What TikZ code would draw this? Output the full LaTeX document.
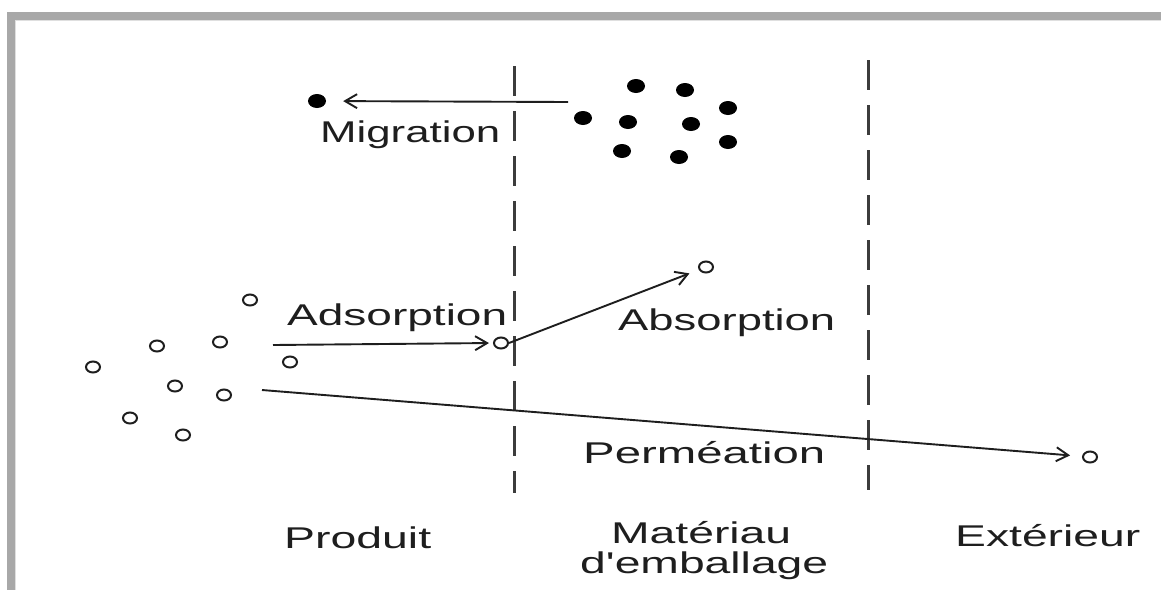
\documentclass[tikz,border=0pt]{standalone}
\usepackage{fontspec}
\setmainfont{Liberation Sans}
\usetikzlibrary{shapes.geometric,arrows.meta}
\definecolor{ink}{RGB}{30,30,30}
\definecolor{divcol}{RGB}{60,60,60}
\definecolor{framecol}{RGB}{168,168,168}
\newcommand{\stretchto}[2]{\resizebox{#1pt}{\height}{#2}}
\begin{document}
\begin{tikzpicture}[x=1pt,y=-1pt,
  lbl/.style={anchor=base west,inner sep=0pt,text=ink,font=\fontsize{30}{34}\selectfont},
  fdot/.style={ellipse,fill=black,minimum width=18pt,minimum height=14pt,inner sep=0pt},
  odot/.style={ellipse,draw=ink,line width=2pt,minimum width=14pt,minimum height=11pt,inner sep=0pt},
  arr/.style={draw=ink,line width=1.9pt,-{Straight Barb[length=12pt,width=14pt,line width=1.9pt]}},
  divider/.style={draw=divcol,line width=3pt,dash pattern=on 30pt off 15pt},
]
\useasboundingbox (0,0) rectangle (1161,590);
\fill[white] (0,0) rectangle (1161,590);
% frame
\fill[framecol] (7,12) rectangle (1161,20);
\fill[framecol] (7,12) rectangle (15,590);
\fill[gray!25] (15,20) rectangle (1161,21);
\fill[gray!25] (15,20) rectangle (16,590);

% dividers
\coordinate (d1t) at (514,66);
\coordinate (d1b) at (514,493);
\coordinate (d2t) at (868,60);
\coordinate (d2b) at (868,490);
\draw[divider] (d1t) -- (d1b);
\draw[divider] (d2t) -- (d2b);

% filled dots (migrating substances)
\node[fdot] (m0) at (317,101) {};
\node[fdot] (m1) at (636,86) {};
\node[fdot] (m2) at (685,90) {};
\node[fdot] (m3) at (728,108) {};
\node[fdot] (m4) at (583,118) {};
\node[fdot] (m5) at (628,122) {};
\node[fdot] (m6) at (691,124) {};
\node[fdot] (m7) at (728,142) {};
\node[fdot] (m8) at (622,151) {};
\node[fdot] (m9) at (679,157) {};

% open circles (product)
\node[odot] (o1) at (250,300) {};
\node[odot] (o2) at (157,346) {};
\node[odot] (o3) at (220,342) {};
\node[odot] (o4) at (93,367) {};
\node[odot] (o5) at (290,362) {};
\node[odot] (o6) at (175,386) {};
\node[odot] (o7) at (224,395) {};
\node[odot] (o8) at (130,418) {};
\node[odot] (o9) at (183,435) {};
\node[odot] (a1) at (501,343) {};
\node[odot] (b1) at (706,267) {};
\node[odot] (p1) at (1090,457) {};

% arrows
\coordinate (mstart) at (568,102);
\draw[arr,shorten >=17pt] (mstart) -- (m0);
\coordinate (astart) at (273,345);
\draw[arr,shorten >=4pt] (astart) -- (a1.west);
\draw[arr,shorten >=10pt] (a1.east) -- (b1);
\coordinate (pstart) at (262,390);
\draw[arr,shorten >=12pt] (pstart) -- (p1);

% labels
\node[lbl] (tmig) at (320,142) {\stretchto{180}{Migration}};
\node[lbl] (tads) at (287,325) {\stretchto{220}{Adsorption}};
\node[lbl] (tabs) at (618,330) {\stretchto{217}{Absorption}};
\node[lbl] (tper) at (583,463) {\stretchto{242}{Perméation}};
\node[lbl] (tpro) at (284,548) {\stretchto{147}{Produit}};
\node[lbl] (tmat) at (611,543) {\stretchto{180}{Matériau}};
\node[lbl] (temb) at (580,573) {\stretchto{248}{d\textquotesingle emballage}};
\node[lbl] (text) at (955,546) {\stretchto{185}{Extérieur}};
\end{tikzpicture}
\end{document}
